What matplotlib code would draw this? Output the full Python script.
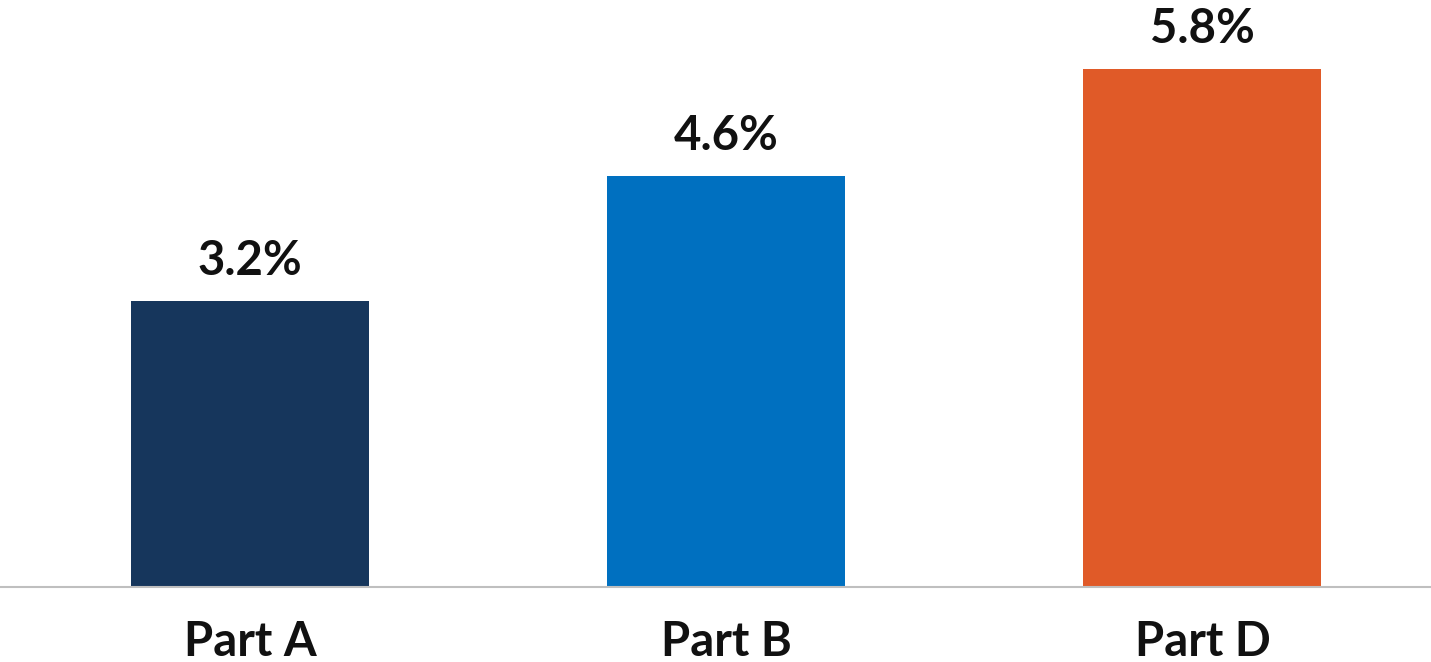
import matplotlib.pyplot as plt
import numpy as np

parts = ["Part A", "Part B", "Part D"]
rates = [3.2, 4.6, 5.8]
bar_colors = ["#16365C", "#0070C0", "#E05A28"]

fig = plt.figure(figsize=(14.31, 6.62), dpi=100)
ax = fig.add_axes([0, 75 / 662, 1, 587 / 662])

x = np.arange(len(parts))
bars = ax.bar(x, rates, width=0.5, color=bar_colors)

# value labels above each bar
for b, v in zip(bars, rates):
    ax.annotate(f"{v:.1f}%", (b.get_x() + b.get_width() / 2, v),
                xytext=(0, 13), textcoords="offset points",
                ha="center", va="bottom", fontsize=34, fontweight="bold",
                family="Lato", color="#111111")

ax.set_xlim(-0.525, 2.48)
ax.set_ylim(0, 6.57)
ax.set_xticks(x)
ax.set_xticklabels(parts, fontsize=34, fontweight="bold", family="Lato", color="#111111")
ax.tick_params(axis="x", length=0, pad=24)
ax.set_yticks([])
for s in ["top", "right", "left"]:
    ax.spines[s].set_visible(False)
ax.spines["bottom"].set_color("#BFBFBF")
ax.spines["bottom"].set_linewidth(1.5)

fig.savefig("out.png", dpi=100)
